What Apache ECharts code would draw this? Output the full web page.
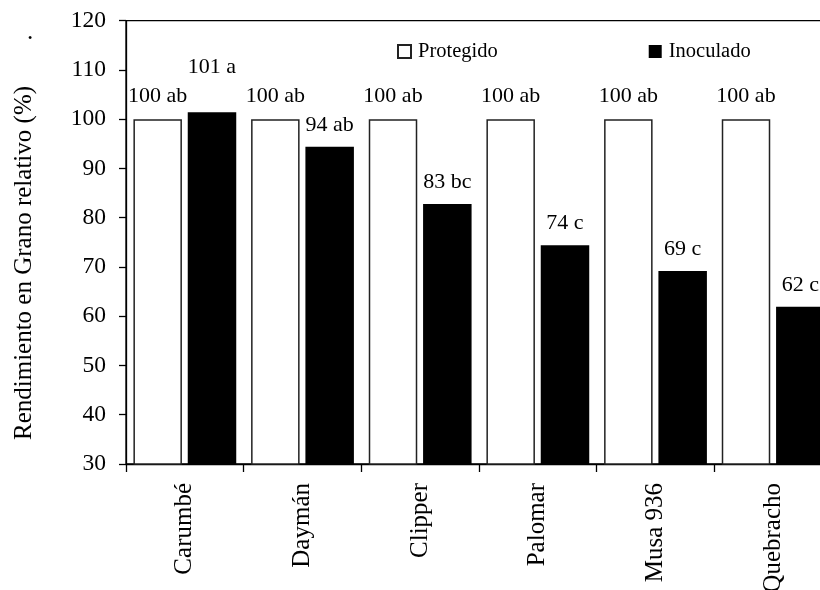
<!DOCTYPE html>
<html>
<head>
<meta charset="utf-8">
<script src="https://cdn.jsdelivr.net/npm/echarts@6/dist/echarts.min.js"></script>
<style>
  html, body { margin: 0; padding: 0; background: #fff; }
  #chart { width: 820px; height: 590px; }
</style>
</head>
<body>
<div id="chart"></div>
<script>
// Cultivars and relative grain yield (%) for each treatment
const categories = ['Carumbé', 'Daymán', 'Clipper', 'Palomar', 'Musa 936', 'Quebracho'];
const protegido = [100, 100, 100, 100, 100, 100];
const inoculado = [101.4, 94.4, 82.8, 74.4, 69.2, 61.9];
// Significance letters shown next to each value
const protegidoLetters = ['ab', 'ab', 'ab', 'ab', 'ab', 'ab'];
const inoculadoLetters = ['a', 'ab', 'bc', 'c', 'c', 'c'];
// Value axis range
const yMin = 30, yMax = 120, yStep = 10;

const FONT = '"Liberation Serif", "Times New Roman", serif';

const chart = echarts.init(document.getElementById('chart'), null, { renderer: 'canvas' });

function labelText(letters) {
  return p => Math.round(p.value) + ' ' + letters[p.dataIndex];
}

const inoculadoData = inoculado.map((v, i) =>
  i === 0 ? { value: v, label: { distance: 34 } } : v);

chart.setOption({
  animation: false,
  backgroundColor: '#fff',
  textStyle: { fontFamily: FONT, color: '#000' },
  // plot area runs past the right edge of the canvas
  grid: {
    left: 126, top: 20.7, width: 706, height: 443.3,
    containLabel: false,
    outerBoundsMode: 'none',
    show: true, borderColor: '#000', borderWidth: 1.3,
    backgroundColor: 'transparent'
  },
  legend: {
    data: ['Protegido', 'Inoculado'],
    left: 392, top: 36,
    itemWidth: 13, itemHeight: 13, itemGap: 151,
    icon: 'rect',
    textStyle: { fontFamily: FONT, fontSize: 20.5, color: '#000', padding: [0, 0, 0, 2] }
  },
  xAxis: {
    type: 'category',
    data: categories,
    axisLine: { lineStyle: { color: '#000', width: 1.3 } },
    axisTick: { show: true, length: 8, lineStyle: { color: '#000', width: 1.3 } },
    axisLabel: { rotate: 90, margin: 19, fontFamily: FONT, fontSize: 25, color: '#000' },
    splitLine: { show: false }
  },
  yAxis: {
    type: 'value',
    min: yMin, max: yMax, interval: yStep,
    axisLine: { show: true, lineStyle: { color: '#000', width: 1.3 } },
    axisTick: { show: true, length: 7, lineStyle: { color: '#000', width: 1.3 } },
    axisLabel: { margin: 20, fontFamily: FONT, fontSize: 23.5, color: '#000' },
    splitLine: { show: false }
  },
  graphic: [
    {
      type: 'text', x: 24, y: 263, rotation: Math.PI / 2,
      style: {
        text: 'Rendimiento en Grano relativo (%)',
        font: '25px ' + FONT, fill: '#000',
        textAlign: 'center', textVerticalAlign: 'middle'
      }
    },
    {
      type: 'text', x: 30, y: 32,
      style: { text: '.', font: '25px ' + FONT, fill: '#000', textAlign: 'center', textVerticalAlign: 'middle' }
    }
  ],
  series: [
    {
      name: 'Protegido',
      type: 'bar',
      data: protegido,
      barWidth: 48.5,
      barGap: '12%',
      itemStyle: { color: '#fff', borderColor: '#222', borderWidth: 1.5 },
      label: {
        show: true, position: 'top', distance: 12,
        formatter: labelText(protegidoLetters),
        fontFamily: FONT, fontSize: 22, color: '#000'
      }
    },
    {
      name: 'Inoculado',
      type: 'bar',
      data: inoculadoData,
      barWidth: 48.5,
      barGap: '12%',
      itemStyle: { color: '#000' },
      label: {
        show: true, position: 'top', distance: 11,
        formatter: labelText(inoculadoLetters),
        fontFamily: FONT, fontSize: 22, color: '#000'
      }
    }
  ]
});
</script>
</body>
</html>
